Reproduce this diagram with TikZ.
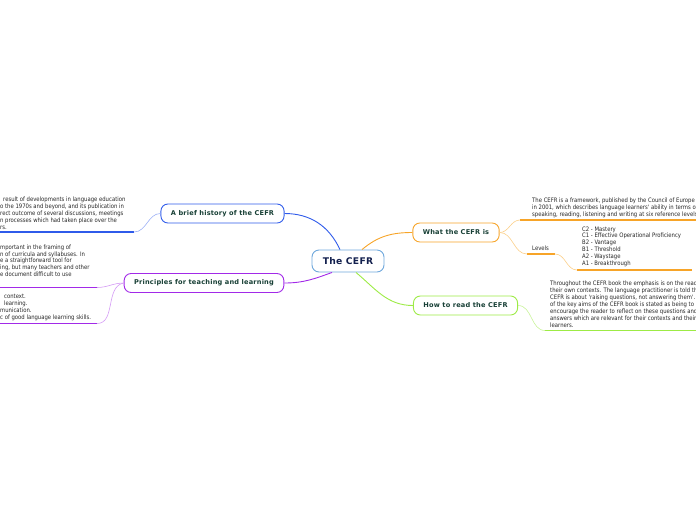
\documentclass[tikz,border=0pt]{standalone}
\usepackage{fontspec}
\setmainfont{DejaVu Sans}
\newfontfamily\notefont[FakeStretch=0.87]{DejaVu Sans}
\newfontfamily\topicfont[LetterSpace=3]{DejaVu Sans}
\usetikzlibrary{positioning}

\definecolor{rootline}{HTML}{6FA8DC}
\definecolor{roottext}{HTML}{13204E}
\definecolor{topictext}{HTML}{173F35}
\definecolor{histblue}{HTML}{2F5BEA}
\definecolor{histlight}{HTML}{9AAEF5}
\definecolor{princpurple}{HTML}{A22AE8}
\definecolor{princlight}{HTML}{D49AF5}
\definecolor{whatorange}{HTML}{F7A428}
\definecolor{whatlight}{HTML}{FBCF8A}
\definecolor{howgreen}{HTML}{9DEB45}
\definecolor{howlight}{HTML}{C9F39A}

\begin{document}
\begin{tikzpicture}[
  x=1pt, y=-1pt,
  every node/.style={inner sep=0pt},
  note/.style={font=\notefont\fontsize{6.1}{6.9}\selectfont, align=left,
               text=black!85, anchor=south west},
  topic/.style={draw, line width=0.9pt, rounded corners=7pt, fill=white,
                minimum height=19pt, inner xsep=10pt, text=topictext,
                font=\topicfont\fontsize{6.6}{7}\selectfont\bfseries},
  root/.style={topic, draw=rootline, minimum height=22pt, minimum width=72pt,
               text=roottext, font=\topicfont\fontsize{9.2}{10}\selectfont\bfseries},
  link/.style={line width=0.9pt},
  twig/.style={line width=0.6pt},
  uline/.style={line width=1.4pt},
]
  \useasboundingbox (0,0) rectangle (696,520);
  \clip (0,0) rectangle (696,520);

  % main topics
  \node[root]                              (cefr)  at (348,261) {The CEFR};
  \node[topic, draw=histblue]              (hist)  at (222.5,213.5) {A brief history of the CEFR};
  \node[topic, draw=princpurple]           (princ) at (204,283) {Principles for teaching and learning};
  \node[topic, draw=whatorange]            (what)  at (456,232.5) {What the CEFR is};
  \node[topic, draw=howgreen]              (how)   at (465.5,305.5) {How to read the CEFR};

  \draw[link, histblue]    (cefr.north) ++(-8,0) to[out=115,in=0]  (hist.east);
  \draw[link, princpurple] (cefr.south) ++(-16,0) to[out=200,in=0] (princ.east);
  \draw[link, whatorange]  (cefr.north) ++(14,0) to[out=40,in=180] (what.west);
  \draw[link, howgreen]    (cefr.south) ++(8,0) to[out=-40,in=180] (how.west);

  % history
  \coordinate (histA) at (-2,232);
  \coordinate (histB) at (134,232);
  \node[note] (histTxt) at (0,229.5)
    {\hspace*{3pt}result of developments in language education\\
     o the 1970s and beyond, and its publication in\\
     rect outcome of several discussions, meetings\\
     n processes which had taken place over the\\
     rs.};
  \draw[uline, histblue] (histA) -- (histB);
  \draw[twig, histlight] (histB) to[out=0,in=180] (hist.west);

  % principles
  \coordinate (prAa) at (-2,287.5);
  \coordinate (prAb) at (97,287.5);
  \node[note] (prTxtA) at (0,277)
    {mportant in the framing of\\
     n of curricula and syllabuses. In\\
     e a straightforward tool for\\
     ing, but many teachers and other\\
     e document difficult to use};
  \draw[uline, princpurple] (prAa) -- (prAb);
  \draw[twig, princlight] (prAb) to[out=0,in=180] (princ.west);

  \coordinate (prBa) at (-2,323.5);
  \coordinate (prBb) at (97,323.5);
  \node[note] (prTxtB) at (0,320.5)
    {\hspace*{4pt}context.\\
     \hspace*{4pt}learning.\\
     munication.\\
     c of good language learning skills.};
  \draw[uline, princpurple] (prBa) -- (prBb);
  \draw[twig, princlight] (prBb) to[out=0,in=190] (princ.west);

  % what the CEFR is
  \coordinate (whatA) at (520,220);
  \coordinate (whatB) at (698,220);
  \node[note] (whatTxt) at (532,217.5)
    {The CEFR is a framework, published by the Council of Europe\\
     in 2001, which describes language learners' ability in terms of\\
     speaking, reading, listening and writing at six reference levels.};
  \draw[uline, whatorange] (whatA) -- (whatB);
  \draw[twig, whatlight] (what.east) to[out=0,in=180] (whatA);

  \coordinate (lvlA) at (527,254);
  \coordinate (lvlB) at (555,254);
  \node[note] (lvl) at (532,250.5) {Levels};
  \draw[uline, whatorange] (lvlA) -- (lvlB);
  \draw[twig, whatlight] (what.east) to[out=0,in=180] (lvlA);

  \coordinate (lvlListA) at (577,270);
  \coordinate (lvlListB) at (692,270);
  \node[note] (lvlList) at (582,267)
    {C2 - Mastery\\
     C1 - Effective Operational Proficiency\\
     B2 - Vantage\\
     B1 - Threshold\\
     A2 - Waystage\\
     A1 - Breakthrough};
  \draw[uline, whatorange] (lvlListA) -- (lvlListB);
  \draw[twig, whatlight] (lvlB) to[out=0,in=180] (lvlListA);

  % how to read
  \coordinate (howA) at (545,330.5);
  \coordinate (howB) at (698,330.5);
  \node[note] (howTxt) at (550,327.5)
    {Throughout the CEFR book the emphasis is on the reader\\
     their own contexts. The language practitioner is told that\\
     CEFR is about 'raising questions, not answering them'. One\\
     of the key aims of the CEFR book is stated as being to\\
     encourage the reader to reflect on these questions and\\
     answers which are relevant for their contexts and their\\
     learners.};
  \draw[uline, howgreen] (howA) -- (howB);
  \draw[twig, howlight] (how.east) to[out=0,in=180] (howA);
\end{tikzpicture}
\end{document}
